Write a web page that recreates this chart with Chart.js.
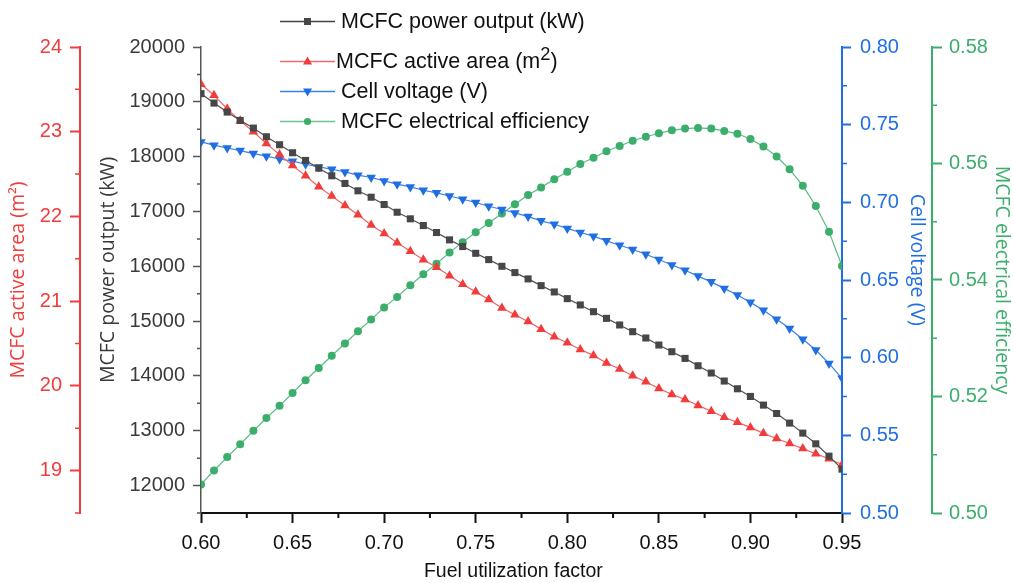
<!DOCTYPE html>
<html>
<head>
<meta charset="utf-8">
<script src="https://cdn.jsdelivr.net/npm/chart.js@4.4.1/dist/chart.umd.min.js"></script>
<style>
  html, body { margin: 0; padding: 0; background: #fff; }
  #wrap { position: relative; width: 1014px; height: 583px; }
  #legend { position: absolute; left: 0; top: 0; width: 1014px; height: 150px; pointer-events: none;
            font-family: "Liberation Sans", Arial, sans-serif; font-size: 21.5px; color: #111; }
  #legend svg { position: absolute; }
  #legend span { position: absolute; white-space: nowrap; height: 30px; line-height: 30px; }
  #legend sup { font-size: 0.85em; vertical-align: 0.45em; line-height: 0; }
</style>
</head>
<body>
<div id="wrap">
  <canvas id="chart" width="1014" height="583"></canvas>
  <div id="legend"></div>
</div>
<script>
// fuel utilization factor (50 points, 0.60 -> 0.95)
const utilization = [0.6000, 0.6071, 0.6143, 0.6214, 0.6286, 0.6357, 0.6429, 0.6500, 0.6571, 0.6643,
                     0.6714, 0.6786, 0.6857, 0.6929, 0.7000, 0.7071, 0.7143, 0.7214, 0.7286, 0.7357,
                     0.7429, 0.7500, 0.7571, 0.7643, 0.7714, 0.7786, 0.7857, 0.7929, 0.8000, 0.8071,
                     0.8143, 0.8214, 0.8286, 0.8357, 0.8429, 0.8500, 0.8571, 0.8643, 0.8714, 0.8786,
                     0.8857, 0.8929, 0.9000, 0.9071, 0.9143, 0.9214, 0.9286, 0.9357, 0.9429, 0.9500];

const powerOutput = [19149, 18977, 18813, 18661, 18521, 18363, 18217, 18071, 17931, 17790,
                     17651, 17511, 17377, 17260, 17127, 16986, 16866, 16743, 16616, 16482,
                     16360, 16237, 16122, 16000, 15885, 15770, 15647, 15532, 15410, 15295,
                     15172, 15050, 14930, 14807, 14692, 14564, 14442, 14320, 14186, 14053,
                     13907, 13766, 13626, 13468, 13315, 13140, 12957, 12762, 12537, 12300];

const activeArea = [23.56, 23.43, 23.27, 23.13, 23.00, 22.86, 22.73, 22.60, 22.48, 22.35,
                    22.24, 22.13, 22.02, 21.90, 21.80, 21.69, 21.59, 21.49, 21.40, 21.30,
                    21.20, 21.11, 21.02, 20.92, 20.84, 20.76, 20.67, 20.58, 20.51, 20.43,
                    20.36, 20.27, 20.20, 20.12, 20.05, 19.97, 19.90, 19.84, 19.77, 19.70,
                    19.63, 19.57, 19.51, 19.44, 19.38, 19.32, 19.26, 19.20, 19.14, 19.07];

const cellVoltage = [0.7389, 0.7368, 0.7350, 0.7333, 0.7314, 0.7297, 0.7279, 0.7265, 0.7245, 0.7228,
                     0.7213, 0.7196, 0.7175, 0.7160, 0.7138, 0.7117, 0.7099, 0.7078, 0.7061, 0.7041,
                     0.7020, 0.6999, 0.6975, 0.6954, 0.6932, 0.6908, 0.6881, 0.6859, 0.6832, 0.6806,
                     0.6782, 0.6752, 0.6724, 0.6696, 0.6666, 0.6632, 0.6597, 0.6563, 0.6525, 0.6488,
                     0.6446, 0.6403, 0.6356, 0.6306, 0.6248, 0.6188, 0.6119, 0.6049, 0.5963, 0.5867];

const efficiency = [0.5049, 0.5073, 0.5096, 0.5118, 0.5141, 0.5163, 0.5184, 0.5206, 0.5228, 0.5249,
                    0.5270, 0.5291, 0.5312, 0.5332, 0.5353, 0.5371, 0.5391, 0.5410, 0.5428, 0.5447,
                    0.5465, 0.5482, 0.5498, 0.5514, 0.5530, 0.5546, 0.5559, 0.5573, 0.5586, 0.5599,
                    0.5610, 0.5621, 0.5630, 0.5639, 0.5646, 0.5652, 0.5657, 0.5660, 0.5661, 0.5660,
                    0.5656, 0.5651, 0.5642, 0.5629, 0.5612, 0.5590, 0.5562, 0.5527, 0.5483, 0.5424];

const seriesNames = ["MCFC power output (kW)", "MCFC active area (m²)", "Cell voltage (V)", "MCFC electrical efficiency"];
const axisTitles = {
    x: "Fuel utilization factor",
    y: "MCFC power output (kW)",
    yArea: "MCFC active area (m²)",
    yVolt: "Cell voltage (V)",
    yEff: "MCFC electrical efficiency"
};

const RED = "#f03c3c", BLUE = "#1f6fe3", GREEN = "#3cae6c", DARK = "#474747";
const tickFont = { family: "'Liberation Sans', Arial, sans-serif", size: 20 };
const titleFont = { family: "'Open Sans', sans-serif", size: 19.5 };

function points(values) {
    return utilization.map((x, i) => ({ x: x, y: values[i] }));
}

// short minor ticks between the labelled ones
const minorSpec = {
    x:     { first: 0.625, step: 0.05, len: 5, color: "#111", width: 2 },
    y:     { first: 11500, step: 1000, len: 4, color: "#555", width: 1.5 },
    yArea: { first: 18.5,  step: 1,    len: 5, color: RED,   width: 1.5 },
    yVolt: { first: 0.525, step: 0.05, len: 5, color: BLUE,  width: 1.5 },
    yEff:  { first: 0.51,  step: 0.02, len: 5, color: GREEN, width: 1.5 }
};

const minorTicks = {
    id: "minorTicks",
    afterDraw(chart) {
        const ctx = chart.ctx;
        Object.keys(minorSpec).forEach(id => {
            const m = minorSpec[id];
            const s = chart.scales[id];
            ctx.save();
            ctx.strokeStyle = m.color;
            ctx.lineWidth = m.width;
            ctx.beginPath();
            for (let v = m.first; v <= s.max + 1e-9; v += m.step) {
                const p = s.getPixelForValue(v);
                if (id === "x") {
                    ctx.moveTo(p, s.top); ctx.lineTo(p, s.top + m.len);
                } else if (s.position === "left") {
                    ctx.moveTo(s.right, p); ctx.lineTo(s.right - m.len, p);
                } else {
                    ctx.moveTo(s.left, p); ctx.lineTo(s.left + m.len, p);
                }
            }
            ctx.stroke();
            ctx.restore();
        });
    }
};

function yAxis(opts) {
    return {
        type: "linear",
        position: opts.position,
        weight: opts.weight,
        min: opts.min,
        max: opts.max,
        border: { color: opts.color, width: opts.borderWidth || 2 },
        grid: { drawOnChartArea: false, tickLength: opts.tickLength, tickColor: opts.color, tickWidth: opts.borderWidth || 2 },
        ticks: {
            stepSize: opts.step,
            includeBounds: false,
            padding: opts.padding,
            color: opts.labelColor || opts.color,
            font: tickFont,
            callback: opts.format
        },
        title: {
            display: true,
            text: opts.title,
            color: opts.labelColor || opts.color,
            font: titleFont,
            padding: { top: opts.titlePad, bottom: 0 }
        },
        afterFit: function (scale) { scale.width = opts.width; }
    };
}

let ctx = document.getElementById("chart").getContext("2d");

new Chart(ctx, {
    type: "line",
    data: {
        datasets: [
            {
                label: seriesNames[0],
                data: points(powerOutput),
                yAxisID: "y",
                borderColor: "#505050",
                backgroundColor: DARK,
                borderWidth: 1.2,
                pointStyle: "rect",
                pointRadius: 5,
                pointBorderWidth: 0,
                pointBackgroundColor: DARK
            },
            {
                label: seriesNames[1],
                data: points(activeArea),
                yAxisID: "yArea",
                borderColor: "#f26262",
                backgroundColor: RED,
                borderWidth: 1.2,
                pointStyle: "triangle",
                pointRadius: 5.5,
                pointBorderWidth: 0,
                pointBackgroundColor: RED
            },
            {
                label: seriesNames[2],
                data: points(cellVoltage),
                yAxisID: "yVolt",
                borderColor: "#3a80ec",
                backgroundColor: BLUE,
                borderWidth: 1.2,
                pointStyle: "triangle",
                pointRotation: 180,
                pointRadius: 5.5,
                pointBorderWidth: 0,
                pointBackgroundColor: BLUE
            },
            {
                label: seriesNames[3],
                data: points(efficiency),
                yAxisID: "yEff",
                borderColor: "#58bc82",
                backgroundColor: GREEN,
                borderWidth: 1.2,
                pointStyle: "circle",
                pointRadius: 4,
                pointBorderWidth: 0,
                pointBackgroundColor: GREEN
            }
        ]
    },
    options: {
        responsive: false,
        animation: false,
        layout: { padding: { top: 47, left: 0, right: 0, bottom: 0 } },
        plugins: { legend: { display: false }, tooltip: { enabled: false } },
        scales: {
            x: {
                type: "linear",
                position: "bottom",
                min: 0.6,
                max: 0.95,
                border: { color: "#111", width: 2 },
                grid: { drawOnChartArea: false, tickLength: 10, tickColor: "#111", tickWidth: 2 },
                ticks: {
                    stepSize: 0.05,
                    autoSkip: false,
                    maxRotation: 0,
                    padding: 8,
                    color: "#111",
                    font: tickFont,
                    callback: v => v.toFixed(2)
                },
                title: {
                    display: true,
                    text: axisTitles.x + "   ",
                    color: "#111",
                    font: { family: "'Liberation Sans', Arial, sans-serif", size: 19.5 },
                    padding: { top: 0.4, bottom: 0 }
                },
                afterFit: function (scale) { scale.height = 70; }
            },
            yArea: yAxis({ position: "left", weight: 1, min: 18.5, max: 24, step: 1, color: RED,
                           tickLength: 10, padding: 8, width: 80, titlePad: 7,
                           title: axisTitles.yArea, format: v => v.toFixed(0) }),
            // half steps keep the tick generator on whole steps; odd ones are dropped (null)
            y: yAxis({ position: "left", weight: 0, min: 11500, max: 20000, step: 500, color: "#555",
                       labelColor: "#3a3a3a", borderWidth: 1.5, tickLength: 8, padding: 8, width: 121, titlePad: 17,
                       title: "    " + axisTitles.y,
                       format: v => (Math.round(v) % 1000 === 0 ? v.toFixed(0) : null) }),
            yVolt: yAxis({ position: "right", weight: 0, min: 0.5, max: 0.8, step: 0.05, color: BLUE,
                           tickLength: 9, padding: 9, width: 90, titlePad: 4,
                           title: axisTitles.yVolt + "        ", format: v => v.toFixed(2) }),
            yEff: yAxis({ position: "right", weight: 1, min: 0.5, max: 0.58, step: 0.02, color: GREEN,
                          tickLength: 10, padding: 7, width: 82, titlePad: 1,
                          title: axisTitles.yEff, format: v => v.toFixed(2) })
        }
    },
    plugins: [minorTicks]
});

// legend drawn as html so the m² can be a real superscript
const legendRows = [
    { html: "MCFC power output (kW)", line: "#444", fill: DARK, marker: "square", cy: 21, textX: 341 },
    { html: "MCFC active area (m<sup>2</sup>)", line: "#f06c6c", fill: RED, marker: "up", cy: 61, textX: 336 },
    { html: "Cell voltage (V)", line: "#3a80ec", fill: BLUE, marker: "down", cy: 91, textX: 341 },
    { html: "MCFC electrical efficiency", line: "#6cc492", fill: GREEN, marker: "dot", cy: 121, textX: 341 }
];

const legend = document.getElementById("legend");
legendRows.forEach(row => {
    let shape = "";
    if (row.marker === "square") shape = '<rect x="24" y="4" width="7" height="7" fill="' + row.fill + '"/>';
    if (row.marker === "up") shape = '<polygon points="27.5,2.5 32,10.5 23,10.5" fill="' + row.fill + '"/>';
    if (row.marker === "down") shape = '<polygon points="23,4.5 32,4.5 27.5,12.5" fill="' + row.fill + '"/>';
    if (row.marker === "dot") shape = '<circle cx="27.5" cy="7.5" r="3.6" fill="' + row.fill + '"/>';
    legend.insertAdjacentHTML("beforeend",
        '<svg width="56" height="15" style="left:280px;top:' + (row.cy - 7.5) + 'px">' +
        '<line x1="0" y1="7.5" x2="55" y2="7.5" stroke="' + row.line + '" stroke-width="1.5"/>' + shape + '</svg>' +
        '<span style="left:' + row.textX + 'px;top:' + (row.cy - 15) + 'px">' + row.html + '</span>');
});
</script>
</body>
</html>
